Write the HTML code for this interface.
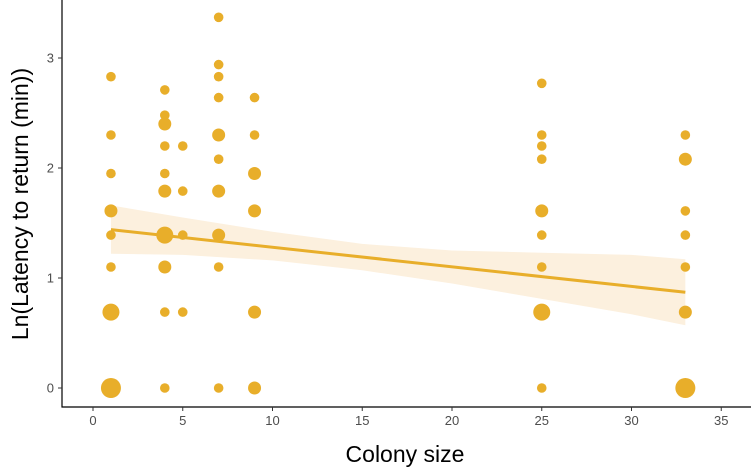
<!DOCTYPE html>
<html><head><meta charset="utf-8"><style>
body{margin:0;background:#fff;}
svg{display:block;font-family:"Liberation Sans",sans-serif;}
</style></head><body>
<svg id="chart" width="751" height="470" viewBox="0 0 751 470">
<g id="band"></g>
<g id="pts"></g>
<g id="fit"></g>
<g id="axes"></g>
<text x="405" y="462" font-size="23" text-anchor="middle" fill="#000">Colony size</text>
<text transform="translate(28,204) rotate(-90)" font-size="23" text-anchor="middle" fill="#000">Ln(Latency to return (min))</text>
</svg>
<script>
const xs=[1,1,1,1,1,1,1,1, 4,4,4,4,4,4,4,4,4,4, 5,5,5,5, 7,7,7,7,7,7,7,7,7,7, 9,9,9,9,9,9, 25,25,25,25,25,25,25,25,25, 33,33,33,33,33,33,33];
const ys=[2.83,2.30,1.95,1.61,1.39,1.10,0.69,0, 2.71,2.48,2.40,2.20,1.95,1.79,1.39,1.10,0.69,0, 2.20,1.79,1.39,0.69, 3.37,2.94,2.83,2.64,2.30,2.08,1.79,1.39,1.10,0, 2.64,2.30,1.95,1.61,0.69,0, 2.77,2.30,2.20,2.08,1.61,1.39,1.10,0.69,0, 2.30,2.08,1.61,1.39,1.10,0.69,0];
const counts=[1,1,1,2,1,1,3,4, 1,1,2,1,1,2,3,2,1,1, 1,1,1,1, 1,1,1,1,2,1,2,2,1,1, 1,1,2,2,2,2, 1,1,1,1,2,1,1,3,1, 1,2,1,1,1,2,4];
const fitX=[1,33];
const fitY=[1.44,0.87];
const bandX=[1,5,10,15,20,25,30,33];
const bandLo=[1.22,1.21,1.16,1.07,0.95,0.81,0.67,0.57];
const bandHi=[1.66,1.55,1.42,1.31,1.25,1.23,1.21,1.17];
const xTicks=[0,5,10,15,20,25,30,35];
const yTicks=[0,1,2,3];
const NS="http://www.w3.org/2000/svg";
const X=v=>93+v*17.95, Y=v=>388-v*110;
const col="#E8AE2A";
function mk(t,a,p){const e=document.createElementNS(NS,t);for(const k in a)e.setAttribute(k,a[k]);p.appendChild(e);return e;}
const band=document.getElementById('band');
let d=bandX.map((x,i)=>(i?'L':'M')+X(x)+','+Y(bandHi[i])).join('')+bandX.slice().reverse().map((x,j)=>'L'+X(x)+','+Y(bandLo[bandX.length-1-j])).join('')+'Z';
const bp=mk('path',{d:d,fill:'#FCF0DE'},band);


const pts=document.getElementById('pts');
const rs=[0,4.8,6.5,8.5,10];
xs.forEach((x,i)=>{const c=mk('circle',{cx:X(x),cy:Y(ys[i]),r:rs[counts[i]],fill:col},pts);

});
const fit=document.getElementById('fit');
const ln=mk('line',{x1:X(fitX[0]),y1:Y(fitY[0]),x2:X(fitX[1]),y2:Y(fitY[1]),stroke:col,'stroke-width':3},fit);


const ax=document.getElementById('axes');
mk('line',{x1:62,y1:0,x2:62,y2:407.5,stroke:'#000','stroke-width':1.2},ax);
mk('line',{x1:61.5,y1:407,x2:751,y2:407,stroke:'#000','stroke-width':1.2},ax);
xTicks.forEach(t=>{mk('line',{x1:X(t),y1:407,x2:X(t),y2:411,stroke:'#333'},ax);
const tx=mk('text',{x:X(t),y:425,'font-size':13,'text-anchor':'middle',fill:'#4d4d4d'},ax);tx.textContent=t;

});
yTicks.forEach(t=>{mk('line',{x1:58,y1:Y(t),x2:62,y2:Y(t),stroke:'#333'},ax);
const tx=mk('text',{x:54,y:Y(t)+4.5,'font-size':13,'text-anchor':'end',fill:'#4d4d4d'},ax);tx.textContent=t;

});
</script>
</body></html>
